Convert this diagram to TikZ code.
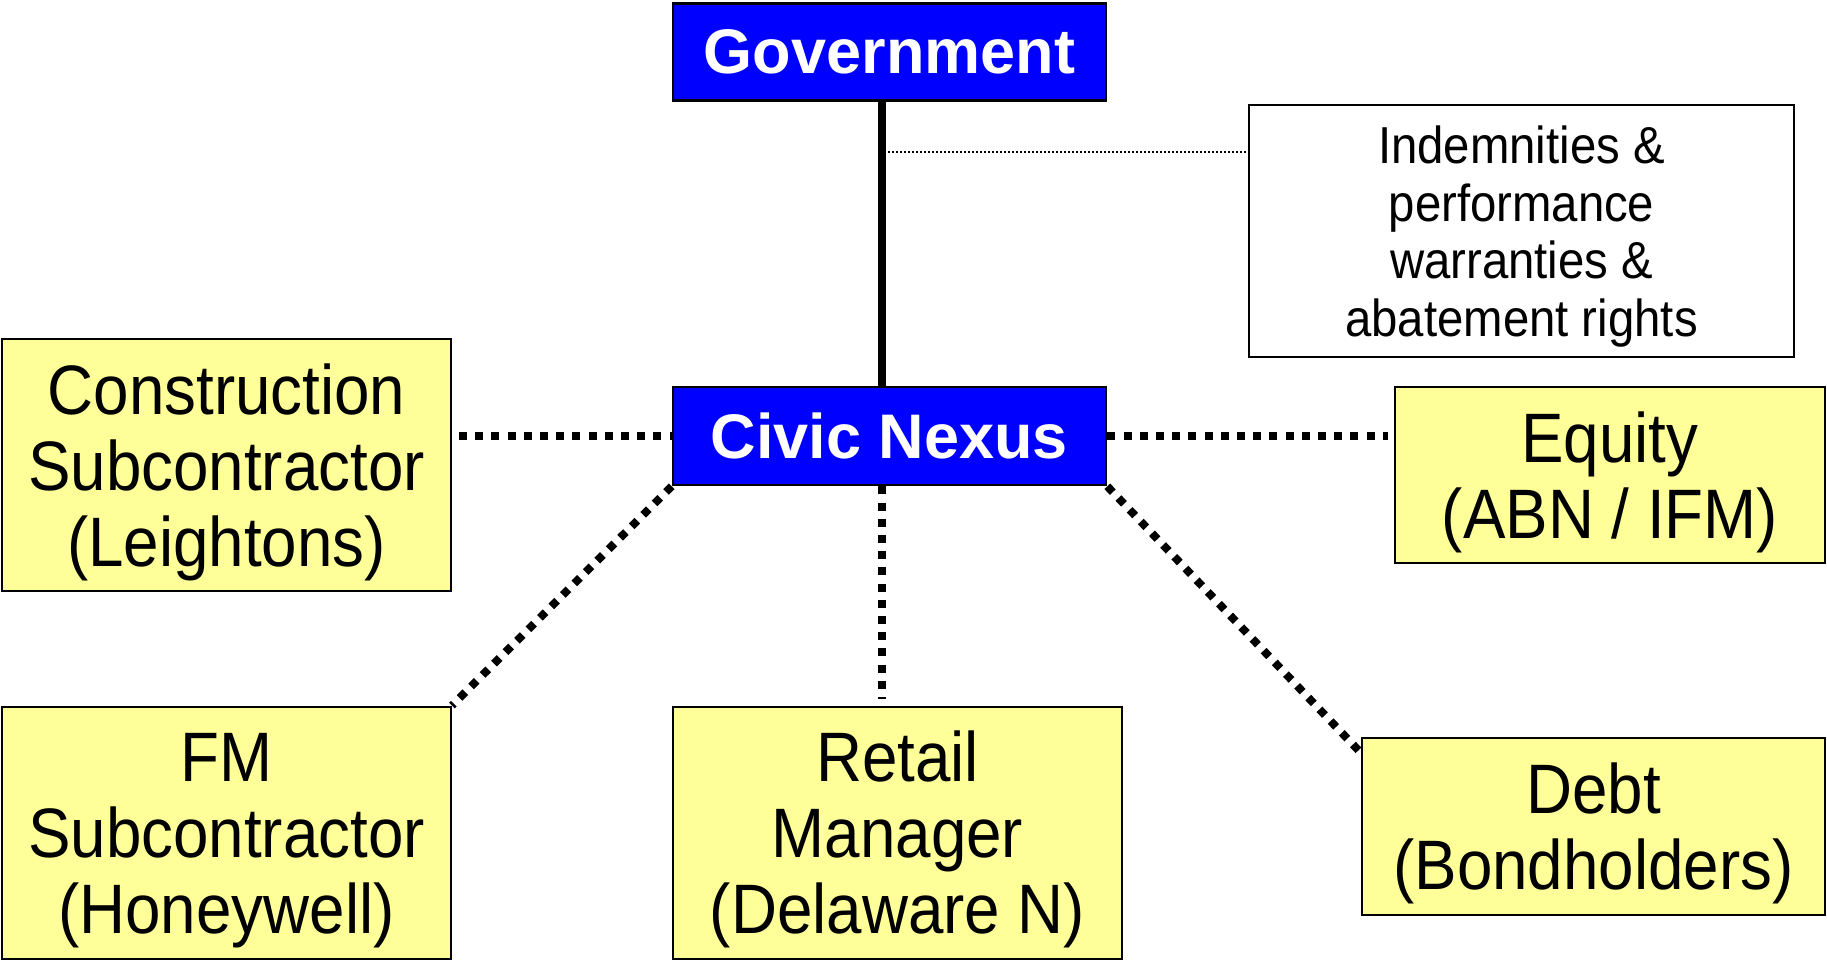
\documentclass[tikz,border=0pt]{standalone}
\usepackage{fontspec}
\setmainfont{Liberation Sans}
\newfontfamily\boxfont[FakeStretch=0.91]{Liberation Sans}
\definecolor{pyellow}{RGB}{255,255,153}
\definecolor{pblue}{RGB}{0,0,255}
\newcommand{\ystrut}{\rule{0pt}{32.5pt}}
\newcommand{\nstrut}{\rule{0pt}{24.5pt}}
\begin{document}
\begin{tikzpicture}[x=0.5pt,y=-0.5pt,
  bluebox/.style={draw=black, line width=1.3pt, fill=pblue, text=white, inner sep=0pt,
    font=\fontsize{31.5}{36}\selectfont\bfseries, align=center},
  ybox/.style={draw=black, line width=1pt, fill=pyellow, inner sep=0pt,
    font=\boxfont\fontsize{35}{38}\selectfont, align=center},
  notebox/.style={draw=black, line width=0.8pt, fill=white, inner sep=0pt,
    font=\boxfont\fontsize{26}{28.75}\selectfont, align=center},
  bolddots/.style={line width=4pt, dash pattern=on 4pt off 4.1pt},
  thickline/.style={line width=4pt},
  thindots/.style={line width=0.8pt, dash pattern=on 1pt off 1pt}]
\useasboundingbox (0,0) rectangle (1827,960);
\node[bluebox, minimum width=216.5pt, minimum height=48.75pt] (gov) at (889.5,52) {Government};
\node[bluebox, minimum width=216.5pt, minimum height=49pt] (civic) at (889.5,436) {Civic Nexus};
\node[notebox, minimum width=272.5pt, minimum height=126pt] (ind) at (1521.5,231)
  {\nstrut Indemnities \&\\performance\\warranties \&\\abatement rights};
\node[ybox, minimum width=224.5pt, minimum height=126pt] (con) at (226.5,465)
  {\ystrut Construction\\Subcontractor\\(Leightons)};
\node[ybox, minimum width=215pt, minimum height=88pt] (eq) at (1610,475)
  {\ystrut Equity\\(ABN / IFM)};
\node[ybox, minimum width=224.5pt, minimum height=126pt] (fm) at (226.5,832.5)
  {\ystrut FM\\Subcontractor\\(Honeywell)};
\node[ybox, minimum width=224.5pt, minimum height=126pt] (ret) at (897.5,832.5)
  {\ystrut Retail\\Manager\\(Delaware N)};
\node[ybox, minimum width=231.5pt, minimum height=88.5pt] (debt) at (1593.5,826.5)
  {\ystrut Debt\\(Bondholders)};
\coordinate (axis) at (882,0);
\coordinate (tap) at (882,152);
\draw[thickline] (gov.south -| axis) -- (civic.north -| axis);
\draw[thindots] ([xshift=3pt]tap) -- (tap -| ind.west);
\draw[bolddots, shorten <=3.5pt] (civic.west -| con.east) -- (civic.west);
\draw[bolddots, shorten >=3pt] (civic.east) -- (civic.east -| eq.west);
\draw[bolddots, shorten >=3.5pt] (civic.south -| axis) -- (ret.north -| axis);
\draw[bolddots] (civic.south west) -- (fm.north east);
\draw[bolddots] (civic.south east) -- ([yshift=-8pt]debt.north west);
\end{tikzpicture}
\end{document}
